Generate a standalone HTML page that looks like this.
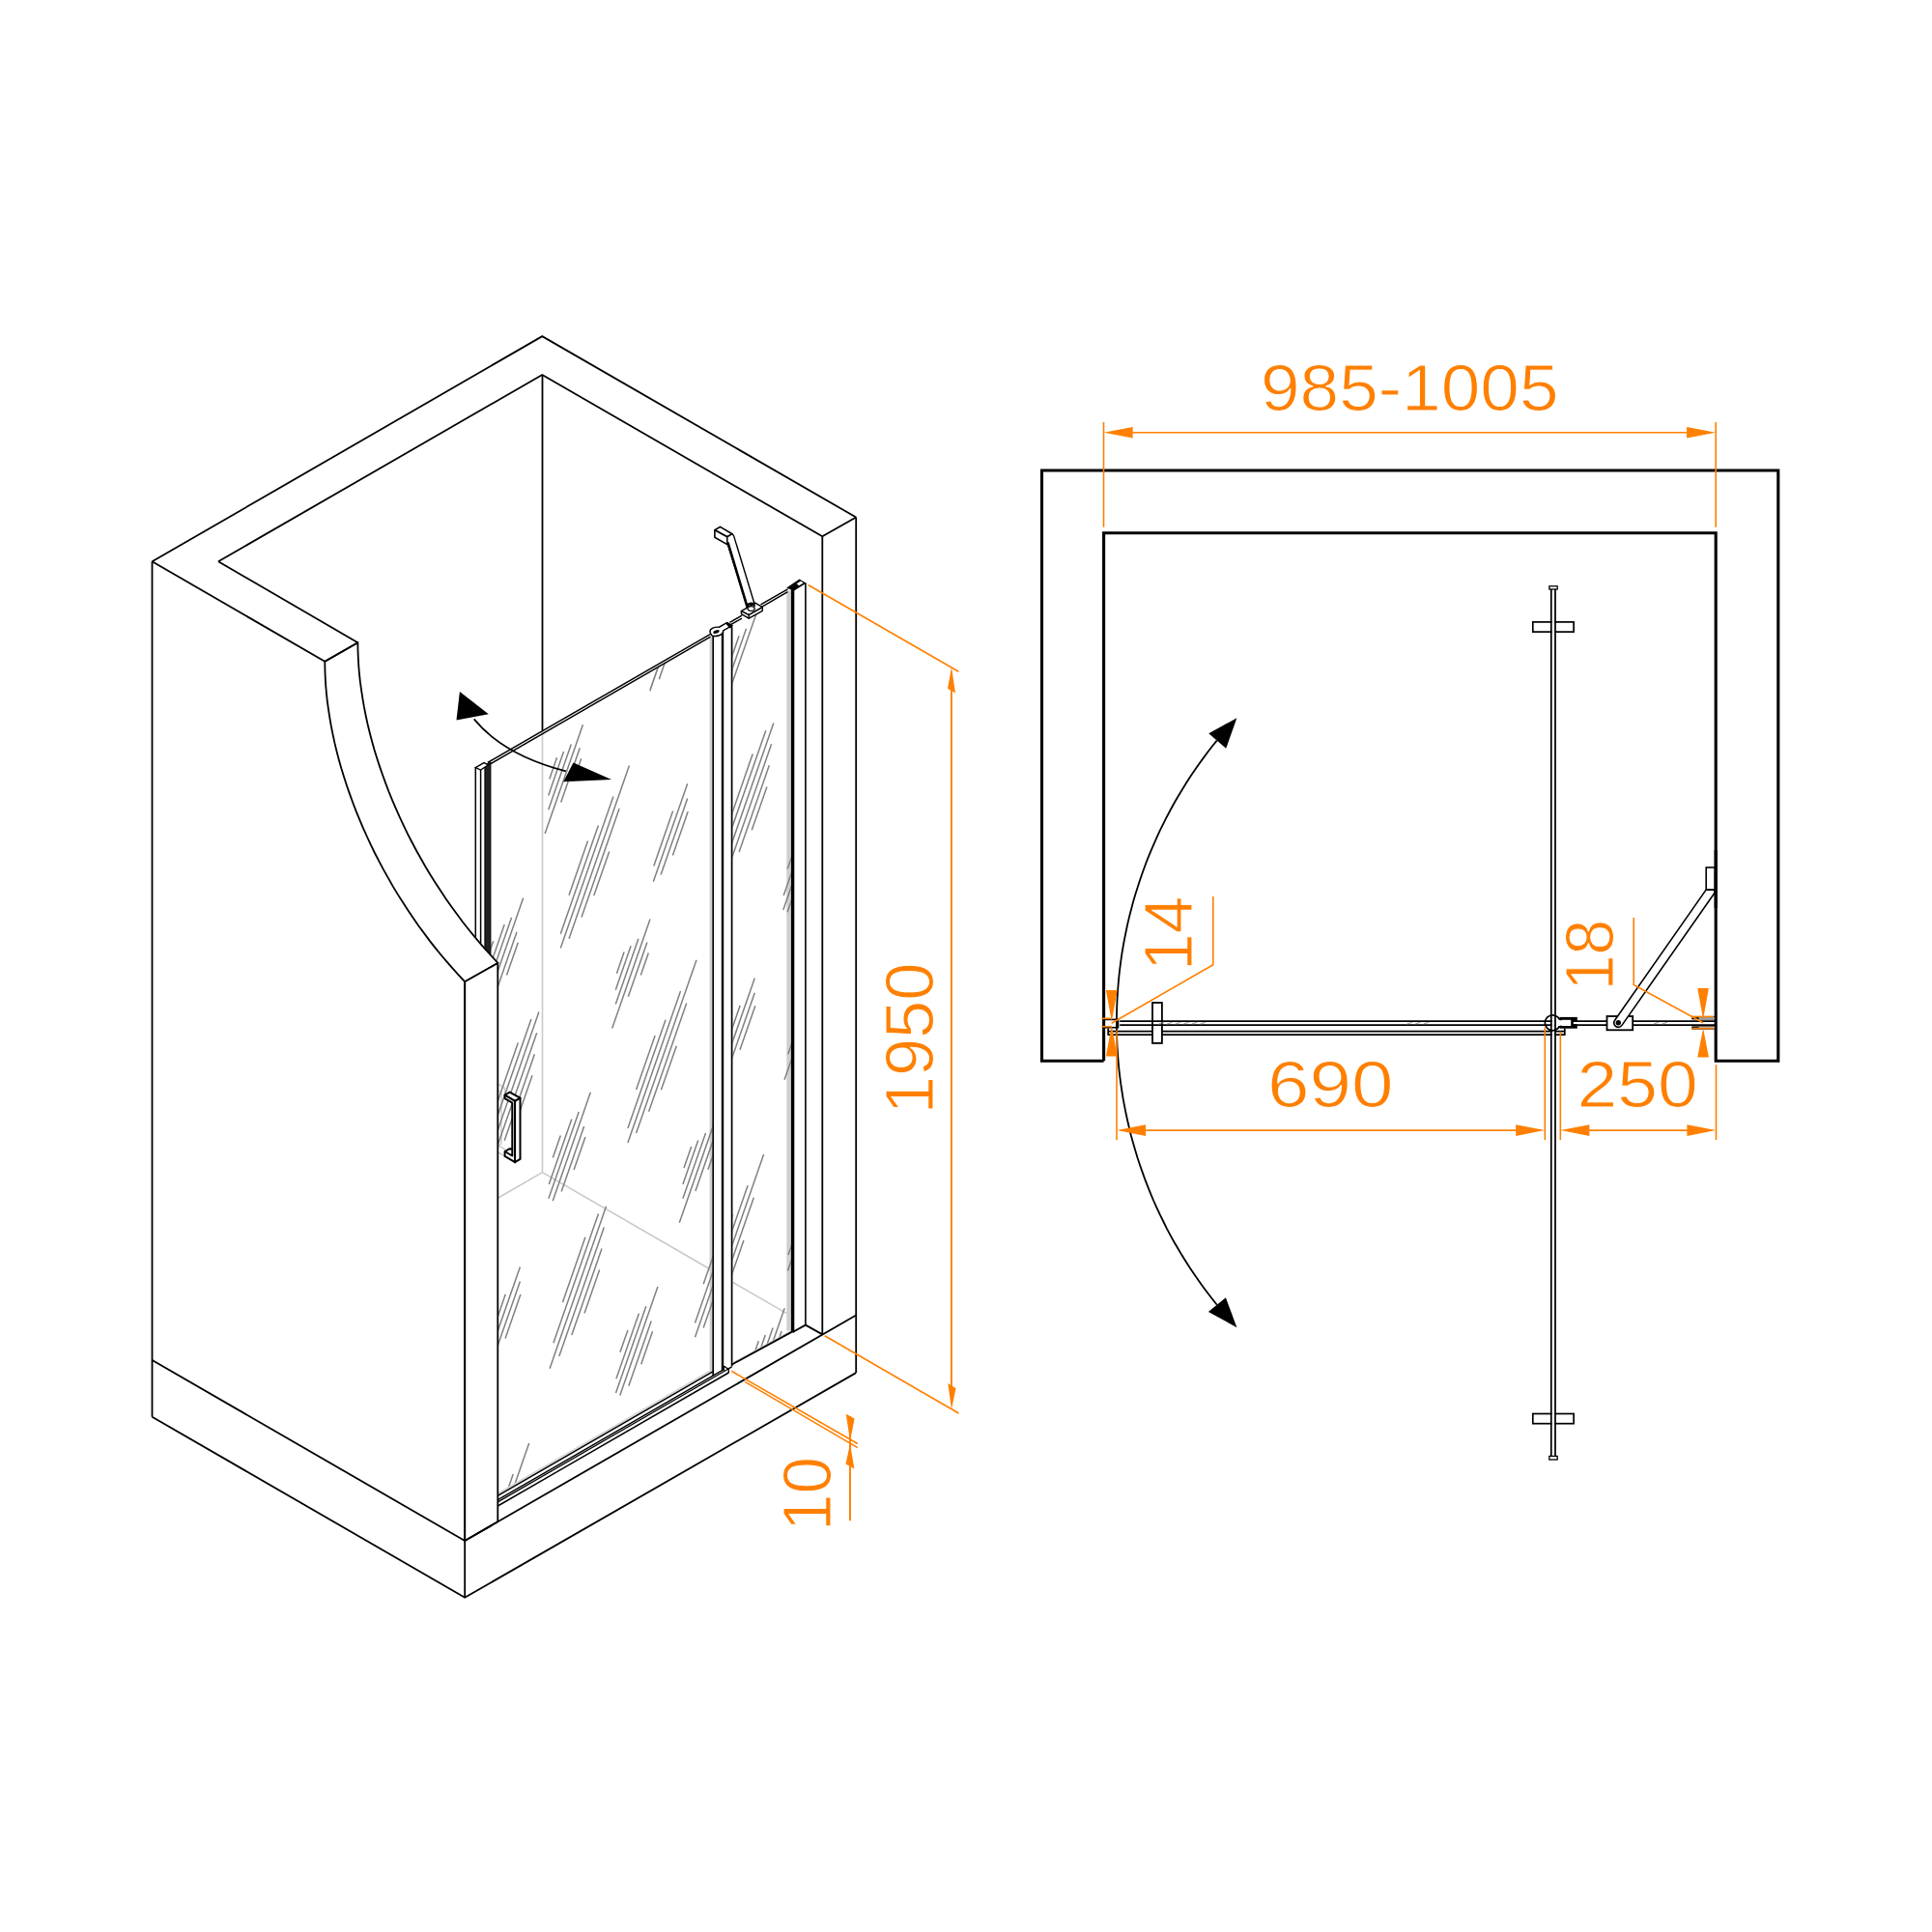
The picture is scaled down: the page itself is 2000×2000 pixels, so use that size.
<!DOCTYPE html>
<html><head><meta charset="utf-8"><title>Shower door drawing</title>
<style>
html,body{margin:0;padding:0;background:#fff;}
body{width:2000px;height:2000px;overflow:hidden;}
svg{display:block;}
text{font-family:"Liberation Sans",sans-serif;fill:#ff8000;stroke:#fff;stroke-width:1px;}
</style></head><body>
<svg width="2000" height="2000" viewBox="0 0 2000 2000">
<rect width="2000" height="2000" fill="#fff"/>
<g id="iso">
<line x1="561.5" y1="756.0" x2="561.5" y2="1213.6" stroke="#c9c9c9" stroke-width="1.6" stroke-linecap="butt"/>
<line x1="561.5" y1="1213.6" x2="515.3" y2="1240.3" stroke="#c9c9c9" stroke-width="1.6" stroke-linecap="butt"/>
<line x1="561.5" y1="1213.6" x2="737.5" y2="1315.2" stroke="#c9c9c9" stroke-width="1.6" stroke-linecap="butt"/>
<line x1="758.4" y1="1327.3" x2="814.3" y2="1359.6" stroke="#c9c9c9" stroke-width="1.6" stroke-linecap="butt"/>
<path d="M516.0,1122.5 L522.5,1126.5 L522.5,1133.0" fill="none" stroke="#cdcdcd" stroke-width="1.5" stroke-linejoin="miter"/>
<path d="M516.0,1129.0 L519.0,1131.0 L519.0,1184.0 L516.0,1186.0" fill="none" stroke="#cdcdcd" stroke-width="1.5" stroke-linejoin="miter"/>
<path d="M516.0,1186.0 L522.5,1189.5 L522.5,1192.0" fill="none" stroke="#cdcdcd" stroke-width="1.5" stroke-linejoin="miter"/>
<path d="M516.0,1193.0 L522.5,1197.0" fill="none" stroke="#cdcdcd" stroke-width="1.5" stroke-linejoin="miter"/>
<line x1="561.5" y1="388.0" x2="561.5" y2="756.0" stroke="#000" stroke-width="1.8" stroke-linecap="butt"/>
<rect x="814.3" y="611.5" width="4.6" height="766" fill="#cfcfcf"/>
<rect x="734.6" y="660" width="2.8" height="760" fill="#cfcfcf"/>
<defs><clipPath id="cpd"><polygon points="508.2,789.5 737.4,657.4 737.4,1420.1 508.2,1552"/></clipPath><clipPath id="cpf"><polygon points="758.4,648.5 818.8,611 818.8,1378.5 758.4,1411.3"/></clipPath></defs>
<path d="M506.9,583.0L499.2,605.2 M513.9,576.7L498.1,622.1 M521.7,569.2L498.1,636.9 M533.8,549.0L494.5,661.8 M530.7,572.9L511.1,629.2 M532.1,584.0L524.1,606.9 M576.5,784.3L568.8,806.5 M583.5,778.0L567.7,823.4 M591.3,770.5L567.7,838.2 M603.4,750.3L564.1,863.1 M600.3,774.2L580.7,830.5 M601.7,785.3L593.7,808.2 M819.4,485.4L811.7,507.6 M826.4,479.1L810.6,524.5 M834.2,471.6L810.6,539.3 M846.3,451.4L807.0,564.2 M843.2,475.3L823.6,531.6 M844.6,486.4L836.6,509.3 M646.1,985.6L638.4,1007.8 M653.1,979.3L637.3,1024.7 M660.9,971.8L637.3,1039.5 M673.0,951.6L633.7,1064.4 M669.9,975.5L650.3,1031.8 M671.3,986.6L663.3,1009.5 M472.8,1485.8L465.1,1508.0 M479.8,1479.5L464.0,1524.9 M487.6,1472.0L464.0,1539.7 M499.7,1451.8L460.4,1564.6 M496.6,1475.7L477.0,1532.0 M498.0,1486.8L490.0,1509.7 M889.0,686.7L881.3,708.9 M896.0,680.4L880.2,725.8 M903.8,672.9L880.2,740.6 M915.9,652.7L876.6,765.5 M912.8,676.6L893.2,732.9 M914.2,687.7L906.2,710.6 M715.7,1186.9L708.0,1209.1 M722.7,1180.6L706.9,1226.0 M730.5,1173.1L706.9,1240.8 M742.6,1152.9L703.3,1265.7 M739.5,1176.8L719.9,1233.1 M740.9,1187.9L732.9,1210.8 M785.3,1388.2L777.6,1410.4 M792.3,1381.9L776.5,1427.3 M800.1,1374.4L776.5,1442.1 M812.2,1354.2L772.9,1467.0 M809.1,1378.1L789.5,1434.4 M810.5,1389.2L802.5,1412.1 M854.9,1589.5L847.2,1611.7 M861.9,1583.2L846.1,1628.6 M869.7,1575.7L846.1,1643.4 M881.8,1555.5L842.5,1668.3 M878.7,1579.4L859.1,1635.7 M880.1,1590.5L872.1,1613.4 M538.9,669.3L519.4,725.4 M549.8,653.2L510.7,765.5 M565.3,623.3L510.7,780.3 M581.8,591.1L519.4,770.5 M571.5,635.8L532.4,748.2 M561.1,680.1L545.2,725.7 M608.5,870.6L589.0,926.7 M619.4,854.5L580.3,966.8 M634.9,824.6L580.3,981.6 M651.4,792.4L589.0,971.8 M641.1,837.1L602.0,949.5 M630.7,881.4L614.8,927.0 M851.4,571.7L831.9,627.8 M862.3,555.6L823.2,667.9 M877.8,525.7L823.2,682.7 M894.3,493.5L831.9,672.9 M884.0,538.2L844.9,650.6 M873.6,582.5L857.7,628.1 M678.1,1071.9L658.6,1128.0 M689.0,1055.8L649.9,1168.1 M704.5,1025.9L649.9,1182.9 M721.0,993.7L658.6,1173.1 M710.7,1038.4L671.6,1150.8 M700.3,1082.7L684.4,1128.3 M504.8,1572.1L485.3,1628.2 M515.7,1556.0L476.6,1668.3 M531.2,1526.1L476.6,1683.1 M547.7,1493.9L485.3,1673.3 M537.4,1538.6L498.3,1651.0 M527.0,1582.9L511.1,1628.5 M747.7,1273.2L728.2,1329.3 M758.6,1257.1L719.5,1369.4 M774.1,1227.2L719.5,1384.2 M790.6,1195.0L728.2,1374.4 M780.3,1239.7L741.2,1352.1 M769.9,1284.0L754.0,1329.6 M817.3,1474.5L797.8,1530.6 M828.2,1458.4L789.1,1570.7 M843.7,1428.5L789.1,1585.5 M860.2,1396.3L797.8,1575.7 M849.9,1441.0L810.8,1553.4 M839.5,1485.3L823.6,1530.9 M886.9,1675.8L867.4,1731.9 M897.8,1659.7L858.7,1772.0 M913.3,1629.8L858.7,1786.8 M929.8,1597.6L867.4,1777.0 M919.5,1642.3L880.4,1754.7 M909.1,1686.6L893.2,1732.2 M557.4,436.9L537.6,493.9 M572.5,408.6L537.1,510.2 M572.5,423.8L544.9,503.0 M573.0,437.3L557.2,482.8 M627.0,638.2L607.2,695.2 M642.1,609.9L606.7,711.5 M642.1,625.1L614.5,704.3 M642.6,638.6L626.8,684.1 M696.6,839.5L676.8,896.5 M711.7,811.2L676.3,912.8 M711.7,826.4L684.1,905.6 M712.2,839.9L696.4,885.4 M523.3,1339.7L503.5,1396.7 M538.4,1311.4L503.0,1413.0 M538.4,1326.6L510.8,1405.8 M538.9,1340.1L523.1,1385.6 M939.5,540.6L919.7,597.6 M954.6,512.3L919.2,613.9 M954.6,527.5L927.0,606.7 M955.1,541.0L939.3,586.5 M766.2,1040.8L746.4,1097.8 M781.3,1012.5L745.9,1114.1 M781.3,1027.7L753.7,1106.9 M781.8,1041.2L766.0,1086.7 M592.9,1541.0L573.1,1598.0 M608.0,1512.7L572.6,1614.3 M608.0,1527.9L580.4,1607.1 M608.5,1541.4L592.7,1586.9 M835.8,1242.1L816.0,1299.1 M850.9,1213.8L815.5,1315.4 M850.9,1229.0L823.3,1308.2 M851.4,1242.5L835.6,1288.0 M905.4,1443.4L885.6,1500.4 M920.5,1415.1L885.1,1516.7 M920.5,1430.3L892.9,1509.5 M921.0,1443.8L905.2,1489.3 M684.0,474.1L676.0,497.0 M695.5,456.9L672.0,524.5 M702.9,449.5L671.6,539.3 M715.0,429.3L675.9,541.7 M708.3,464.6L684.9,531.9 M709.6,475.5L697.8,509.4 M510.7,974.3L502.7,997.2 M522.2,957.1L498.7,1024.7 M529.6,949.7L498.3,1039.5 M541.7,929.5L502.6,1041.9 M535.0,964.8L511.6,1032.1 M536.3,975.7L524.5,1009.6 M753.6,675.4L745.6,698.3 M765.1,658.2L741.6,725.8 M772.5,650.8L741.2,740.6 M784.6,630.6L745.5,743.0 M580.3,1175.6L572.3,1198.5 M591.8,1158.4L568.3,1226.0 M599.2,1151.0L567.9,1240.8 M611.3,1130.8L572.2,1243.2 M604.6,1166.1L581.2,1233.4 M605.9,1177.0L594.1,1210.9 M823.2,876.7L815.2,899.6 M834.7,859.5L811.2,927.1 M842.1,852.1L810.8,941.9 M854.2,831.9L815.1,944.3 M847.5,867.2L824.1,934.5 M848.8,878.1L837.0,912.0 M649.9,1376.9L641.9,1399.8 M661.4,1359.7L637.9,1427.3 M668.8,1352.3L637.5,1442.1 M680.9,1332.1L641.8,1444.5 M674.2,1367.4L650.8,1434.7 M675.5,1378.3L663.7,1412.2 M892.8,1078.0L884.8,1100.9 M904.3,1060.8L880.8,1128.4 M911.7,1053.4L880.4,1143.2 M923.8,1033.2L884.7,1145.6 M917.1,1068.5L893.7,1135.8 M918.4,1079.4L906.6,1113.3 M719.5,1578.2L711.5,1601.1 M731.0,1561.0L707.5,1628.6 M738.4,1553.6L707.1,1643.4 M750.5,1533.4L711.4,1645.8 M743.8,1568.7L720.4,1636.0 M745.1,1579.6L733.3,1613.5 M488.3,846.2L429.9,1014.1 M480.3,853.8L433.7,987.6 M466.7,878.1L443.2,945.7 M486.1,867.9L439.6,1001.5 M483.8,889.9L452.6,979.5 M481.4,912.0L465.8,956.9 M731.2,547.3L672.8,715.2 M723.2,554.9L676.6,688.7 M709.6,579.2L686.1,646.8 M729.0,569.0L682.5,702.6 M726.7,591.0L695.5,680.6 M724.3,613.1L708.7,658.0 M557.9,1047.5L499.5,1215.4 M549.9,1055.1L503.3,1188.9 M536.3,1079.4L512.8,1147.0 M555.7,1069.2L509.2,1202.8 M553.4,1091.2L522.2,1180.8 M551.0,1113.3L535.4,1158.2 M800.8,748.6L742.4,916.5 M792.8,756.2L746.2,890.0 M779.2,780.5L755.7,848.1 M798.6,770.3L752.1,903.9 M796.3,792.3L765.1,881.9 M793.9,814.4L778.3,859.3 M627.5,1248.8L569.1,1416.7 M619.5,1256.4L572.9,1390.2 M605.9,1280.7L582.4,1348.3 M625.3,1270.5L578.8,1404.1 M623.0,1292.5L591.8,1382.1 M620.6,1314.6L605.0,1359.5 M870.4,949.9L812.0,1117.8 M862.4,957.5L815.8,1091.3 M848.8,981.8L825.3,1049.4 M868.2,971.6L821.7,1105.2 M865.9,993.6L834.7,1083.2 M863.5,1015.7L847.9,1060.6 M697.1,1450.1L638.7,1618.0 M689.1,1457.7L642.5,1591.5 M675.5,1482.0L652.0,1549.6 M694.9,1471.8L648.4,1605.4 M692.6,1493.8L661.4,1583.4 M690.2,1515.9L674.6,1560.8 M940.0,1151.2L881.6,1319.1 M932.0,1158.8L885.4,1292.6 M918.4,1183.1L894.9,1250.7 M937.8,1172.9L891.3,1306.5 M935.5,1194.9L904.3,1284.5 M933.1,1217.0L917.5,1261.9 M684.9,680.0L673.3,713.3 M692.1,675.0L682.3,703.2" fill="none" stroke="#808080" stroke-width="1.5" clip-path="url(#cpd)"/>
<path d="M506.9,583.0L499.2,605.2 M513.9,576.7L498.1,622.1 M521.7,569.2L498.1,636.9 M533.8,549.0L494.5,661.8 M530.7,572.9L511.1,629.2 M532.1,584.0L524.1,606.9 M576.5,784.3L568.8,806.5 M583.5,778.0L567.7,823.4 M591.3,770.5L567.7,838.2 M603.4,750.3L564.1,863.1 M600.3,774.2L580.7,830.5 M601.7,785.3L593.7,808.2 M819.4,485.4L811.7,507.6 M826.4,479.1L810.6,524.5 M834.2,471.6L810.6,539.3 M846.3,451.4L807.0,564.2 M843.2,475.3L823.6,531.6 M844.6,486.4L836.6,509.3 M646.1,985.6L638.4,1007.8 M653.1,979.3L637.3,1024.7 M660.9,971.8L637.3,1039.5 M673.0,951.6L633.7,1064.4 M669.9,975.5L650.3,1031.8 M671.3,986.6L663.3,1009.5 M472.8,1485.8L465.1,1508.0 M479.8,1479.5L464.0,1524.9 M487.6,1472.0L464.0,1539.7 M499.7,1451.8L460.4,1564.6 M496.6,1475.7L477.0,1532.0 M498.0,1486.8L490.0,1509.7 M889.0,686.7L881.3,708.9 M896.0,680.4L880.2,725.8 M903.8,672.9L880.2,740.6 M915.9,652.7L876.6,765.5 M912.8,676.6L893.2,732.9 M914.2,687.7L906.2,710.6 M715.7,1186.9L708.0,1209.1 M722.7,1180.6L706.9,1226.0 M730.5,1173.1L706.9,1240.8 M742.6,1152.9L703.3,1265.7 M739.5,1176.8L719.9,1233.1 M740.9,1187.9L732.9,1210.8 M785.3,1388.2L777.6,1410.4 M792.3,1381.9L776.5,1427.3 M800.1,1374.4L776.5,1442.1 M812.2,1354.2L772.9,1467.0 M809.1,1378.1L789.5,1434.4 M810.5,1389.2L802.5,1412.1 M854.9,1589.5L847.2,1611.7 M861.9,1583.2L846.1,1628.6 M869.7,1575.7L846.1,1643.4 M881.8,1555.5L842.5,1668.3 M878.7,1579.4L859.1,1635.7 M880.1,1590.5L872.1,1613.4 M538.9,669.3L519.4,725.4 M549.8,653.2L510.7,765.5 M565.3,623.3L510.7,780.3 M581.8,591.1L519.4,770.5 M571.5,635.8L532.4,748.2 M561.1,680.1L545.2,725.7 M608.5,870.6L589.0,926.7 M619.4,854.5L580.3,966.8 M634.9,824.6L580.3,981.6 M651.4,792.4L589.0,971.8 M641.1,837.1L602.0,949.5 M630.7,881.4L614.8,927.0 M851.4,571.7L831.9,627.8 M862.3,555.6L823.2,667.9 M877.8,525.7L823.2,682.7 M894.3,493.5L831.9,672.9 M884.0,538.2L844.9,650.6 M873.6,582.5L857.7,628.1 M678.1,1071.9L658.6,1128.0 M689.0,1055.8L649.9,1168.1 M704.5,1025.9L649.9,1182.9 M721.0,993.7L658.6,1173.1 M710.7,1038.4L671.6,1150.8 M700.3,1082.7L684.4,1128.3 M504.8,1572.1L485.3,1628.2 M515.7,1556.0L476.6,1668.3 M531.2,1526.1L476.6,1683.1 M547.7,1493.9L485.3,1673.3 M537.4,1538.6L498.3,1651.0 M527.0,1582.9L511.1,1628.5 M747.7,1273.2L728.2,1329.3 M758.6,1257.1L719.5,1369.4 M774.1,1227.2L719.5,1384.2 M790.6,1195.0L728.2,1374.4 M780.3,1239.7L741.2,1352.1 M769.9,1284.0L754.0,1329.6 M817.3,1474.5L797.8,1530.6 M828.2,1458.4L789.1,1570.7 M843.7,1428.5L789.1,1585.5 M860.2,1396.3L797.8,1575.7 M849.9,1441.0L810.8,1553.4 M839.5,1485.3L823.6,1530.9 M886.9,1675.8L867.4,1731.9 M897.8,1659.7L858.7,1772.0 M913.3,1629.8L858.7,1786.8 M929.8,1597.6L867.4,1777.0 M919.5,1642.3L880.4,1754.7 M909.1,1686.6L893.2,1732.2 M557.4,436.9L537.6,493.9 M572.5,408.6L537.1,510.2 M572.5,423.8L544.9,503.0 M573.0,437.3L557.2,482.8 M627.0,638.2L607.2,695.2 M642.1,609.9L606.7,711.5 M642.1,625.1L614.5,704.3 M642.6,638.6L626.8,684.1 M696.6,839.5L676.8,896.5 M711.7,811.2L676.3,912.8 M711.7,826.4L684.1,905.6 M712.2,839.9L696.4,885.4 M523.3,1339.7L503.5,1396.7 M538.4,1311.4L503.0,1413.0 M538.4,1326.6L510.8,1405.8 M538.9,1340.1L523.1,1385.6 M939.5,540.6L919.7,597.6 M954.6,512.3L919.2,613.9 M954.6,527.5L927.0,606.7 M955.1,541.0L939.3,586.5 M766.2,1040.8L746.4,1097.8 M781.3,1012.5L745.9,1114.1 M781.3,1027.7L753.7,1106.9 M781.8,1041.2L766.0,1086.7 M592.9,1541.0L573.1,1598.0 M608.0,1512.7L572.6,1614.3 M608.0,1527.9L580.4,1607.1 M608.5,1541.4L592.7,1586.9 M835.8,1242.1L816.0,1299.1 M850.9,1213.8L815.5,1315.4 M850.9,1229.0L823.3,1308.2 M851.4,1242.5L835.6,1288.0 M905.4,1443.4L885.6,1500.4 M920.5,1415.1L885.1,1516.7 M920.5,1430.3L892.9,1509.5 M921.0,1443.8L905.2,1489.3 M684.0,474.1L676.0,497.0 M695.5,456.9L672.0,524.5 M702.9,449.5L671.6,539.3 M715.0,429.3L675.9,541.7 M708.3,464.6L684.9,531.9 M709.6,475.5L697.8,509.4 M510.7,974.3L502.7,997.2 M522.2,957.1L498.7,1024.7 M529.6,949.7L498.3,1039.5 M541.7,929.5L502.6,1041.9 M535.0,964.8L511.6,1032.1 M536.3,975.7L524.5,1009.6 M753.6,675.4L745.6,698.3 M765.1,658.2L741.6,725.8 M772.5,650.8L741.2,740.6 M784.6,630.6L745.5,743.0 M580.3,1175.6L572.3,1198.5 M591.8,1158.4L568.3,1226.0 M599.2,1151.0L567.9,1240.8 M611.3,1130.8L572.2,1243.2 M604.6,1166.1L581.2,1233.4 M605.9,1177.0L594.1,1210.9 M823.2,876.7L815.2,899.6 M834.7,859.5L811.2,927.1 M842.1,852.1L810.8,941.9 M854.2,831.9L815.1,944.3 M847.5,867.2L824.1,934.5 M848.8,878.1L837.0,912.0 M649.9,1376.9L641.9,1399.8 M661.4,1359.7L637.9,1427.3 M668.8,1352.3L637.5,1442.1 M680.9,1332.1L641.8,1444.5 M674.2,1367.4L650.8,1434.7 M675.5,1378.3L663.7,1412.2 M892.8,1078.0L884.8,1100.9 M904.3,1060.8L880.8,1128.4 M911.7,1053.4L880.4,1143.2 M923.8,1033.2L884.7,1145.6 M917.1,1068.5L893.7,1135.8 M918.4,1079.4L906.6,1113.3 M719.5,1578.2L711.5,1601.1 M731.0,1561.0L707.5,1628.6 M738.4,1553.6L707.1,1643.4 M750.5,1533.4L711.4,1645.8 M743.8,1568.7L720.4,1636.0 M745.1,1579.6L733.3,1613.5 M488.3,846.2L429.9,1014.1 M480.3,853.8L433.7,987.6 M466.7,878.1L443.2,945.7 M486.1,867.9L439.6,1001.5 M483.8,889.9L452.6,979.5 M481.4,912.0L465.8,956.9 M731.2,547.3L672.8,715.2 M723.2,554.9L676.6,688.7 M709.6,579.2L686.1,646.8 M729.0,569.0L682.5,702.6 M726.7,591.0L695.5,680.6 M724.3,613.1L708.7,658.0 M557.9,1047.5L499.5,1215.4 M549.9,1055.1L503.3,1188.9 M536.3,1079.4L512.8,1147.0 M555.7,1069.2L509.2,1202.8 M553.4,1091.2L522.2,1180.8 M551.0,1113.3L535.4,1158.2 M800.8,748.6L742.4,916.5 M792.8,756.2L746.2,890.0 M779.2,780.5L755.7,848.1 M798.6,770.3L752.1,903.9 M796.3,792.3L765.1,881.9 M793.9,814.4L778.3,859.3 M627.5,1248.8L569.1,1416.7 M619.5,1256.4L572.9,1390.2 M605.9,1280.7L582.4,1348.3 M625.3,1270.5L578.8,1404.1 M623.0,1292.5L591.8,1382.1 M620.6,1314.6L605.0,1359.5 M870.4,949.9L812.0,1117.8 M862.4,957.5L815.8,1091.3 M848.8,981.8L825.3,1049.4 M868.2,971.6L821.7,1105.2 M865.9,993.6L834.7,1083.2 M863.5,1015.7L847.9,1060.6 M697.1,1450.1L638.7,1618.0 M689.1,1457.7L642.5,1591.5 M675.5,1482.0L652.0,1549.6 M694.9,1471.8L648.4,1605.4 M692.6,1493.8L661.4,1583.4 M690.2,1515.9L674.6,1560.8 M940.0,1151.2L881.6,1319.1 M932.0,1158.8L885.4,1292.6 M918.4,1183.1L894.9,1250.7 M937.8,1172.9L891.3,1306.5 M935.5,1194.9L904.3,1284.5 M933.1,1217.0L917.5,1261.9 M684.9,680.0L673.3,713.3 M692.1,675.0L682.3,703.2" fill="none" stroke="#808080" stroke-width="1.5" clip-path="url(#cpf)"/>
<line x1="504.8" y1="789.4" x2="735.6" y2="656.3" stroke="#000" stroke-width="1.5" stroke-linecap="butt"/>
<line x1="504.8" y1="792.4" x2="735.6" y2="659.2" stroke="#000" stroke-width="1.5" stroke-linecap="butt"/>
<line x1="492.3" y1="794.6" x2="492.3" y2="1000.0" stroke="#000" stroke-width="1.5" stroke-linecap="butt"/>
<line x1="497.6" y1="797.0" x2="497.6" y2="1000.0" stroke="#000" stroke-width="1.5" stroke-linecap="butt"/>
<polygon points="501.9,792.3 507.9,788.8 507.9,1004.5 501.9,1004.5" fill="#222" stroke="#000" stroke-width="1"/>
<path d="M492.3,794.6 L501.0,789.6 L505.5,791.8 L497.6,797.0 L492.3,794.6 Z" fill="#fff" stroke="#000" stroke-width="1.3" stroke-linejoin="miter"/>
<polygon points="515.3,1545.2 737.4,1417.0 737.4,1420.0 515.3,1548.2" fill="#d6d6d6"/>
<line x1="738.0" y1="1419.8" x2="515.3" y2="1548.4" stroke="#000" stroke-width="1.45" stroke-linecap="butt"/>
<line x1="747.6" y1="1418.6" x2="515.3" y2="1552.7" stroke="#000" stroke-width="1.45" stroke-linecap="butt"/>
<line x1="752.0" y1="1418.2" x2="515.3" y2="1554.9" stroke="#000" stroke-width="1.3" stroke-linecap="butt"/>
<line x1="754.3" y1="1421.0" x2="515.3" y2="1559.0" stroke="#000" stroke-width="1.45" stroke-linecap="butt"/>
<path d="M748.3,1417.0 L749.9,1414.4 L754.3,1417.5 L754.3,1421.3" fill="none" stroke="#000" stroke-width="1.4" stroke-linejoin="miter"/>
<polygon points="747.2,1416.0 749.6,1415.0 750.2,1418.6 747.2,1419.6" fill="#000"/>
<line x1="757.6" y1="1414.8" x2="752.0" y2="1418.2" stroke="#000" stroke-width="1.4" stroke-linecap="butt"/>
<line x1="738.2" y1="657.5" x2="738.2" y2="1424.2" stroke="#000" stroke-width="1.7" stroke-linecap="butt"/>
<line x1="748.0" y1="653.5" x2="748.0" y2="1418.6" stroke="#000" stroke-width="2.4" stroke-linecap="butt"/>
<line x1="757.6" y1="648.5" x2="757.6" y2="1414.6" stroke="#000" stroke-width="1.7" stroke-linecap="butt"/>
<path d="M735.0,654.5 C734.5,650.5 740,648.8 744.5,649.2 L752.5,644.6 L757.8,647.6 L748.6,653.0 C749,657.5 741,659.5 737,658 Z" fill="#fff" stroke="#000" stroke-width="1.4"/>
<ellipse cx="741.5" cy="654" rx="3.3" ry="1.7" fill="#000" transform="rotate(-20 741.5 654)"/>
<polygon points="751.2,645.6 753.5,644.2 757.9,646.9 757.9,649.2 755.4,650.6" fill="#000"/>
<line x1="755.5" y1="644.3" x2="768.0" y2="637.1" stroke="#000" stroke-width="1.5" stroke-linecap="butt"/>
<line x1="755.5" y1="647.2" x2="768.0" y2="640.1" stroke="#000" stroke-width="1.5" stroke-linecap="butt"/>
<line x1="787.5" y1="625.9" x2="815.5" y2="609.8" stroke="#000" stroke-width="1.5" stroke-linecap="butt"/>
<line x1="787.5" y1="628.9" x2="815.5" y2="612.7" stroke="#000" stroke-width="1.5" stroke-linecap="butt"/>
<polygon points="758.5,1410.2 818.5,1377.3 818.5,1378.6 758.5,1411.6" fill="#cfcfcf"/>
<line x1="757.5" y1="1412.6" x2="819.5" y2="1378.9" stroke="#000" stroke-width="1.8" stroke-linecap="butt"/>
<line x1="833.9" y1="603.6" x2="833.9" y2="1371.6" stroke="#000" stroke-width="1.6" stroke-linecap="butt"/>
<line x1="820.6" y1="610.5" x2="820.6" y2="1379.5" stroke="#000" stroke-width="3.4" stroke-linecap="butt"/>
<line x1="820.6" y1="1379.0" x2="833.9" y2="1371.6" stroke="#000" stroke-width="1.8" stroke-linecap="butt"/>
<polygon points="814.2,608.4 827.6,599.4 834.6,603.8 821.6,611.8" fill="#000"/>
<polygon points="824.6,604.2 829.0,601.6 831.6,603.4 827.2,606.2" fill="#fff"/>
<path d="M522.6,1133.6 L527.7,1130.6 L538.5,1136.7 L533.1,1139.8 Z" fill="#fff" stroke="#000" stroke-width="2.0" stroke-linejoin="round"/>
<path d="M522.6,1133.6 L522.6,1137.2 L530.3,1141.6 L530.3,1189.5 L527.6,1189.2 L522.6,1192.0 L522.6,1196.9 L533.1,1203.2 L533.1,1139.8 Z" fill="#fff" stroke="#000" stroke-width="2.0" stroke-linejoin="round"/>
<path d="M533.1,1139.8 L538.5,1136.7 L538.5,1199.9 L533.1,1203.2 Z" fill="#fff" stroke="#000" stroke-width="2.0" stroke-linejoin="round"/>
<path d="M522.6,1192.0 L530.3,1196.5 L530.3,1189.5" fill="none" stroke="#000" stroke-width="2.0" stroke-linejoin="round"/>
<path d="M739.9,548.8 L745.5,545.4 L758.0,552.7 L752.8,555.8 Z" fill="#fff" stroke="#000" stroke-width="1.6" stroke-linejoin="round"/>
<path d="M739.9,548.8 L739.9,556.3 L752.8,563.6 L752.8,555.8 Z" fill="#fff" stroke="#000" stroke-width="1.6" stroke-linejoin="round"/>
<path d="M752.8,555.8 L758.0,552.7 L759.6,554.6 L781.0,625.0 L774.0,629.5 L752.8,561.0 Z" fill="#fff" stroke="#000" stroke-width="1.4" stroke-linejoin="round"/>
<line x1="753.4" y1="561.5" x2="773.9" y2="629.4" stroke="#000" stroke-width="2.6" stroke-linecap="butt"/>
<path d="M767.4,632.6 L781.9,624.1 L789.3,628.7 L775.2,636.6 Z" fill="#fff" stroke="#000" stroke-width="1.4" stroke-linejoin="round"/>
<path d="M767.4,632.6 L767.4,635.6 L775.2,640.2 L789.3,632.3 L789.3,628.7 L775.2,636.6 Z" fill="#fff" stroke="#000" stroke-width="1.4" stroke-linejoin="round"/>
<line x1="775.2" y1="636.6" x2="775.2" y2="640.2" stroke="#000" stroke-width="1.4" stroke-linecap="butt"/>
<ellipse cx="777.6" cy="630.0" rx="3.6" ry="2.4" fill="#fff" stroke="#000" stroke-width="1.3"/>
<path d="M774,628 A3.6,2.4 0 0 1 781.2,628 L781.2,626.4 A3.6,2.4 0 0 0 774,626.4 Z" fill="#000" stroke="#000" stroke-width="1.2"/>
<path d="M336.3,684.8 L336.4,692.8 L336.7,700.9 L337.2,709.1 L337.9,717.4 L338.8,725.8 L340.0,734.3 L341.3,742.8 L342.8,751.5 L344.5,760.1 L346.4,768.9 L348.5,777.6 L350.8,786.4 L353.3,795.3 L356.0,804.1 L358.9,813.0 L362.0,821.9 L365.2,830.7 L368.6,839.6 L372.2,848.4 L376.0,857.3 L379.9,866.0 L384.0,874.8 L388.2,883.5 L392.7,892.1 L397.2,900.6 L402.0,909.1 L406.8,917.6 L411.8,925.9 L417.0,934.1 L422.3,942.2 L427.7,950.3 L433.2,958.2 L438.9,965.9 L444.6,973.6 L450.5,981.1 L456.5,988.5 L462.6,995.7 L468.7,1002.7 L475.0,1009.6 L481.3,1016.4 L515.3,997.0 L515.4,996.8 L509.1,990.0 L502.8,983.1 L496.7,976.1 L490.6,968.9 L484.6,961.5 L478.7,954.0 L473.0,946.3 L467.3,938.6 L461.8,930.7 L456.4,922.6 L451.1,914.5 L445.9,906.3 L440.9,898.0 L436.1,889.5 L431.3,881.0 L426.8,872.5 L422.3,863.9 L418.1,855.2 L414.0,846.4 L410.1,837.7 L406.3,828.8 L402.7,820.0 L399.3,811.1 L396.1,802.3 L393.0,793.4 L390.1,784.5 L387.4,775.7 L384.9,766.8 L382.6,758.0 L380.5,749.3 L378.6,740.5 L376.9,731.9 L375.4,723.2 L374.1,714.7 L372.9,706.2 L372.0,697.8 L371.3,689.5 L370.8,681.3 L370.5,673.2 L370.4,665.2 Z" fill="#fff" stroke="#000" stroke-width="1.8" stroke-linejoin="miter"/>
<path d="M481.2,1016.3 L515.3,997.0 L515.3,1575.3 L481.2,1595.0 Z" fill="#fff" stroke="#000" stroke-width="1.8" stroke-linejoin="miter"/>
<path d="M157.5,581.3 L561.3,348.1 L886.2,535.5" fill="none" stroke="#000" stroke-width="1.8" stroke-linejoin="miter"/>
<path d="M226.0,581.3 L561.3,388.0 L851.3,555.3" fill="none" stroke="#000" stroke-width="1.8" stroke-linejoin="miter"/>
<path d="M157.5,581.3 L336.3,684.8" fill="none" stroke="#000" stroke-width="1.8" stroke-linejoin="miter"/>
<path d="M226.0,581.3 L370.4,665.2" fill="none" stroke="#000" stroke-width="1.8" stroke-linejoin="miter"/>
<path d="M336.3,684.8 L370.4,665.2" fill="none" stroke="#000" stroke-width="1.8" stroke-linejoin="miter"/>
<path d="M886.2,535.5 L851.3,555.3" fill="none" stroke="#000" stroke-width="1.8" stroke-linejoin="miter"/>
<line x1="157.5" y1="581.3" x2="157.5" y2="1466.7" stroke="#000" stroke-width="1.8" stroke-linecap="butt"/>
<line x1="481.2" y1="1016.3" x2="481.2" y2="1653.8" stroke="#000" stroke-width="1.8" stroke-linecap="butt"/>
<line x1="886.2" y1="535.5" x2="886.2" y2="1421.1" stroke="#000" stroke-width="1.8" stroke-linecap="butt"/>
<line x1="851.3" y1="555.3" x2="851.3" y2="1381.4" stroke="#000" stroke-width="1.8" stroke-linecap="butt"/>
<line x1="833.9" y1="1371.6" x2="851.3" y2="1381.4" stroke="#000" stroke-width="1.8" stroke-linecap="butt"/>
<path d="M157.5,1408.0 L481.2,1595.0 L886.2,1361.5" fill="none" stroke="#000" stroke-width="1.8" stroke-linejoin="miter"/>
<path d="M157.5,1466.7 L481.2,1653.8 L886.2,1421.1" fill="none" stroke="#000" stroke-width="1.8" stroke-linejoin="miter"/>
<path d="M490.7,744.4 C512.8,771.4 547.1,788.4 585.8,798.4" fill="none" stroke="#000" stroke-width="1.7"/>
<polygon points="475.9,716.0 505.8,739.2 472.5,745.6" fill="#000"/>
<polygon points="593.5,789.6 633.0,807.1 583.2,809.3" fill="#000"/>
<line x1="836.6" y1="605.5" x2="992.4" y2="695.2" stroke="#ff8000" stroke-width="1.65" stroke-linecap="butt"/>
<line x1="853.7" y1="1382.8" x2="992.5" y2="1463.0" stroke="#ff8000" stroke-width="1.65" stroke-linecap="butt"/>
<line x1="984.9" y1="700.0" x2="984.9" y2="1450.0" stroke="#ff8000" stroke-width="1.9" stroke-linecap="butt"/>
<polygon points="985.0,690.6 981.0,712.8 989.0,717.5" fill="#ff8000"/>
<polygon points="985.0,1458.9 981.3,1431.9 989.5,1437.3" fill="#ff8000"/>
<line x1="757.1" y1="1419.3" x2="887.8" y2="1494.5" stroke="#ff8000" stroke-width="1.65" stroke-linecap="butt"/>
<line x1="771.1" y1="1430.4" x2="887.8" y2="1498.6" stroke="#ff8000" stroke-width="1.65" stroke-linecap="butt"/>
<line x1="880.0" y1="1466.0" x2="880.0" y2="1574.3" stroke="#ff8000" stroke-width="1.9" stroke-linecap="butt"/>
<polygon points="880.0,1492.0 875.8,1463.7 884.6,1468.4" fill="#ff8000"/>
<polygon points="880.0,1494.6 875.5,1515.6 884.4,1520.6" fill="#ff8000"/>
<text x="0" y="0" font-size="70" textLength="156.8" lengthAdjust="spacingAndGlyphs" transform="translate(965.6,1153.3) rotate(-90)">1950</text>
<text x="0" y="0" font-size="70" textLength="77.0" lengthAdjust="spacingAndGlyphs" transform="translate(860.2,1585.0) rotate(-90)">10</text>
</g>
<g id="plan">
<path d="M1259.7,766.6 L1254.7,772.8 L1249.9,779.0 L1245.2,785.4 L1240.6,791.8 L1236.1,798.3 L1231.7,804.8 L1227.4,811.5 L1223.3,818.2 L1219.2,825.0 L1215.3,831.8 L1211.5,838.8 L1207.8,845.7 L1204.2,852.8 L1200.7,859.9 L1197.4,867.1 L1194.2,874.3 L1191.1,881.6 L1188.1,888.9 L1185.3,896.3 L1182.6,903.7 L1180.0,911.2 L1177.6,918.7 L1175.2,926.2 L1173.0,933.8 L1171.0,941.4 L1169.0,949.1 L1167.2,956.8 L1165.6,964.5 L1164.0,972.3 L1162.6,980.0 L1161.3,987.8 L1160.2,995.6 L1159.2,1003.5 L1158.3,1011.3 L1157.6,1019.2 L1157.0,1027.1 L1156.5,1035.0 L1156.2,1042.9 L1156.0,1050.8 L1155.9,1058.7 L1156.0,1066.6 L1156.2,1074.5 L1156.5,1082.4 L1157.0,1090.3 L1157.6,1098.1 L1158.3,1106.0 L1159.2,1113.8 L1160.2,1121.7 L1161.4,1129.5 L1162.6,1137.3 L1164.1,1145.1 L1165.6,1152.8 L1167.3,1160.5 L1169.1,1168.2 L1171.0,1175.9 L1173.1,1183.5 L1175.3,1191.1 L1177.6,1198.7 L1180.1,1206.2 L1182.7,1213.6 L1185.4,1221.1 L1188.2,1228.4 L1191.2,1235.8 L1194.2,1243.0 L1197.5,1250.3 L1200.8,1257.4 L1204.3,1264.5 L1207.8,1271.6 L1211.5,1278.6 L1215.3,1285.5 L1219.3,1292.3 L1223.3,1299.1 L1227.5,1305.8 L1231.8,1312.5 L1236.2,1319.0 L1240.7,1325.5 L1245.3,1332.0 L1250.0,1338.3 L1254.8,1344.5 L1259.8,1350.7" fill="none" stroke="#000" stroke-width="1.8" stroke-linejoin="miter"/>
<polygon points="1280.4,743.2 1251.3,759.3 1269.2,774.8" fill="#000"/>
<polygon points="1280.4,1374.2 1250.9,1358.1 1268.9,1343.2" fill="#000"/>
<path d="M1142.6,1098.2 L1078.5,1098.2 L1078.5,487.0 L1840.8,487.0 L1840.8,1098.2 L1776.2,1098.2 L1776.2,551.7 L1142.6,551.7 L1142.6,1098.2" fill="none" stroke="#000" stroke-width="3.1" stroke-linejoin="miter"/>
<line x1="1147.2" y1="1067.5" x2="1619.8" y2="1067.5" stroke="#000" stroke-width="1.75" stroke-linecap="butt"/>
<line x1="1147.2" y1="1071.0" x2="1619.8" y2="1071.0" stroke="#000" stroke-width="1.75" stroke-linecap="butt"/>
<line x1="1147.2" y1="1064.5" x2="1147.2" y2="1071.9" stroke="#000" stroke-width="1.75" stroke-linecap="butt"/>
<line x1="1619.8" y1="1064.5" x2="1619.8" y2="1071.9" stroke="#000" stroke-width="1.75" stroke-linecap="butt"/>
<rect x="1193.0" y="1038.0" width="9.9" height="41.9" fill="#fff" stroke="#000" stroke-width="1.8"/>
<line x1="1159.2" y1="1057.0" x2="1610.0" y2="1057.0" stroke="#000" stroke-width="1.75" stroke-linecap="butt"/>
<line x1="1159.2" y1="1061.1" x2="1610.0" y2="1061.1" stroke="#000" stroke-width="1.75" stroke-linecap="butt"/>
<line x1="1199.5" y1="1060.0" x2="1205.0" y2="1058.2" stroke="#9a9a9a" stroke-width="1.0" stroke-linecap="butt"/>
<line x1="1208.1" y1="1060.0" x2="1213.6" y2="1058.2" stroke="#9a9a9a" stroke-width="1.0" stroke-linecap="butt"/>
<line x1="1216.7" y1="1060.0" x2="1222.2" y2="1058.2" stroke="#9a9a9a" stroke-width="1.0" stroke-linecap="butt"/>
<line x1="1225.3" y1="1060.0" x2="1230.8" y2="1058.2" stroke="#9a9a9a" stroke-width="1.0" stroke-linecap="butt"/>
<line x1="1233.9" y1="1060.0" x2="1239.4" y2="1058.2" stroke="#9a9a9a" stroke-width="1.0" stroke-linecap="butt"/>
<line x1="1242.5" y1="1060.0" x2="1248.0" y2="1058.2" stroke="#9a9a9a" stroke-width="1.0" stroke-linecap="butt"/>
<line x1="1456.5" y1="1060.0" x2="1462.0" y2="1058.2" stroke="#9a9a9a" stroke-width="1.0" stroke-linecap="butt"/>
<line x1="1465.1" y1="1060.0" x2="1470.6" y2="1058.2" stroke="#9a9a9a" stroke-width="1.0" stroke-linecap="butt"/>
<line x1="1473.7" y1="1060.0" x2="1479.2" y2="1058.2" stroke="#9a9a9a" stroke-width="1.0" stroke-linecap="butt"/>
<path d="M1144.0,1055.4 L1157.0,1055.4" fill="none" stroke="#000" stroke-width="1.6" stroke-linejoin="miter"/>
<path d="M1144.0,1063.7 L1157.0,1063.7" fill="none" stroke="#000" stroke-width="1.6" stroke-linejoin="miter"/>
<line x1="1156.8" y1="1054.6" x2="1156.8" y2="1064.5" stroke="#000" stroke-width="3.0" stroke-linecap="butt"/>
<rect x="1586.8" y="643.9" width="42.3" height="10.2" fill="#fff" stroke="#000" stroke-width="1.7"/>
<rect x="1586.8" y="1463.5" width="42.3" height="10.2" fill="#fff" stroke="#000" stroke-width="1.7"/>
<rect x="1606.6" y="640.0" width="2.6" height="840.0" fill="#fff"/>
<line x1="1605.8" y1="610.0" x2="1605.8" y2="1507.5" stroke="#000" stroke-width="1.75" stroke-linecap="butt"/>
<line x1="1610.0" y1="610.0" x2="1610.0" y2="1507.5" stroke="#000" stroke-width="1.75" stroke-linecap="butt"/>
<rect x="1603.8" y="606.8" width="8.4" height="3.2" fill="#fff" stroke="#000" stroke-width="1.3"/>
<rect x="1603.8" y="1507.4" width="8.4" height="3.6" fill="#fff" stroke="#000" stroke-width="1.3"/>
<circle cx="1607.3" cy="1058.8" r="8.0" fill="none" stroke="#000" stroke-width="1.7"/>
<rect x="1614.6" y="1052.9" width="18.2" height="11.8" fill="#000"/>
<rect x="1612.0" y="1055.8" width="14.2" height="6.2" fill="#fff"/>
<path d="M1613.2,1053.6 Q1615.2,1055.6 1616.5,1055.8 M1613.2,1064.0 Q1615.2,1062.2 1616.5,1062.0" fill="none" stroke="#000" stroke-width="1.6"/>
<rect x="1628.8" y="1057.9" width="5.0" height="2.3" fill="#fff"/>
<line x1="1628.8" y1="1057.0" x2="1776.0" y2="1057.0" stroke="#000" stroke-width="1.75" stroke-linecap="butt"/>
<line x1="1628.8" y1="1061.1" x2="1776.0" y2="1061.1" stroke="#000" stroke-width="1.75" stroke-linecap="butt"/>
<line x1="1712.0" y1="1060.0" x2="1717.5" y2="1058.2" stroke="#9a9a9a" stroke-width="1.0" stroke-linecap="butt"/>
<line x1="1720.6" y1="1060.0" x2="1726.1" y2="1058.2" stroke="#9a9a9a" stroke-width="1.0" stroke-linecap="butt"/>
<rect x="1751.3" y="1052.2" width="23.7" height="3.2" fill="#000"/>
<rect x="1751.3" y="1062.4" width="23.7" height="3.2" fill="#000"/>
<rect x="1758.5" y="1053.4" width="16.5" height="1.2" fill="#fff"/>
<rect x="1758.5" y="1063.3" width="16.5" height="1.2" fill="#fff"/>
<rect x="1663.5" y="1052.0" width="26.7" height="14.3" fill="#fff" stroke="#000" stroke-width="1.8"/>
<path d="M1671.6,1056.2 L1766.1,921.1 L1775,921.1 L1775,924.2 L1679.0,1061.4 A4.5,4.5 0 0 1 1671.6,1056.2 Z" fill="#fff" stroke="#000" stroke-width="1.6" stroke-linejoin="round"/>
<circle cx="1675.3" cy="1058.8" r="2.7" fill="#000"/>
<rect x="1766.2" y="898.0" width="9.0" height="22.9" fill="#fff" stroke="#000" stroke-width="1.6"/>
<line x1="1776.2" y1="880.0" x2="1776.2" y2="940.0" stroke="#000" stroke-width="3.1" stroke-linecap="butt"/>
<line x1="1142.5" y1="437.0" x2="1142.5" y2="545.7" stroke="#ff8000" stroke-width="1.6" stroke-linecap="butt"/>
<line x1="1776.2" y1="437.0" x2="1776.2" y2="545.7" stroke="#ff8000" stroke-width="1.6" stroke-linecap="butt"/>
<line x1="1150.0" y1="447.7" x2="1770.0" y2="447.7" stroke="#ff8000" stroke-width="1.6" stroke-linecap="butt"/>
<polygon points="1142.6,447.7 1172.6,441.9 1172.6,447.7 1172.6,453.5" fill="#ff8000"/>
<polygon points="1776.1,447.7 1746.1,453.5 1746.1,447.7 1746.1,441.9" fill="#ff8000"/>
<text x="1305.0" y="424.6" font-size="68" textLength="308.5" lengthAdjust="spacingAndGlyphs">985-1005</text>
<line x1="1156.0" y1="1066.6" x2="1156.0" y2="1180.0" stroke="#ff8000" stroke-width="1.6" stroke-linecap="butt"/>
<line x1="1599.3" y1="1063.5" x2="1599.3" y2="1180.0" stroke="#ff8000" stroke-width="1.6" stroke-linecap="butt"/>
<line x1="1615.3" y1="1067.8" x2="1615.3" y2="1180.0" stroke="#ff8000" stroke-width="1.6" stroke-linecap="butt"/>
<line x1="1776.5" y1="1102.3" x2="1776.5" y2="1180.0" stroke="#ff8000" stroke-width="1.6" stroke-linecap="butt"/>
<line x1="1160.0" y1="1170.1" x2="1595.0" y2="1170.1" stroke="#ff8000" stroke-width="1.6" stroke-linecap="butt"/>
<line x1="1620.0" y1="1170.1" x2="1772.0" y2="1170.1" stroke="#ff8000" stroke-width="1.6" stroke-linecap="butt"/>
<polygon points="1156.1,1170.1 1186.1,1164.3 1186.1,1170.1 1186.1,1175.9" fill="#ff8000"/>
<polygon points="1599.2,1170.1 1569.2,1175.9 1569.2,1170.1 1569.2,1164.3" fill="#ff8000"/>
<polygon points="1615.4,1170.1 1645.4,1164.3 1645.4,1170.1 1645.4,1175.9" fill="#ff8000"/>
<polygon points="1776.4,1170.1 1746.4,1175.9 1746.4,1170.1 1746.4,1164.3" fill="#ff8000"/>
<text x="1312.0" y="1146.4" font-size="68" textLength="130.5" lengthAdjust="spacingAndGlyphs">690</text>
<text x="1632.6" y="1146.4" font-size="68" textLength="125.3" lengthAdjust="spacingAndGlyphs">250</text>
<line x1="1140.4" y1="1054.4" x2="1151.0" y2="1054.4" stroke="#ff8000" stroke-width="1.6" stroke-linecap="butt"/>
<line x1="1140.4" y1="1062.7" x2="1151.0" y2="1062.7" stroke="#ff8000" stroke-width="1.6" stroke-linecap="butt"/>
<polygon points="1150.8,1057.6 1144.9,1024.9 1150.8,1024.9 1156.7,1024.9" fill="#ff8000"/>
<polygon points="1150.8,1061.2 1156.7,1093.5 1150.8,1093.5 1144.9,1093.5" fill="#ff8000"/>
<path d="M1150.7,1059.3 L1255.8,998.7 L1255.8,928.1" fill="none" stroke="#ff8000" stroke-width="1.6" stroke-linejoin="miter"/>
<text x="0" y="0" font-size="70" textLength="77.3" lengthAdjust="spacingAndGlyphs" transform="translate(1234.0,1004.9) rotate(-90)">14</text>
<line x1="1751.5" y1="1052.4" x2="1774.0" y2="1052.4" stroke="#ff8000" stroke-width="1.6" stroke-linecap="butt"/>
<line x1="1751.5" y1="1064.6" x2="1774.0" y2="1064.6" stroke="#ff8000" stroke-width="1.6" stroke-linecap="butt"/>
<polygon points="1763.1,1054.9 1757.3,1023.1 1763.1,1023.1 1768.9,1023.1" fill="#ff8000"/>
<polygon points="1763.1,1064.3 1768.9,1094.5 1763.1,1094.5 1757.3,1094.5" fill="#ff8000"/>
<path d="M1691.2,950.1 L1691.2,1019.5 L1763.1,1058.8" fill="none" stroke="#ff8000" stroke-width="1.6" stroke-linejoin="miter"/>
<text x="0" y="0" font-size="70" textLength="73.2" lengthAdjust="spacingAndGlyphs" transform="translate(1670.0,1025.2) rotate(-90)">18</text>
</g>
</svg>
</body></html>
